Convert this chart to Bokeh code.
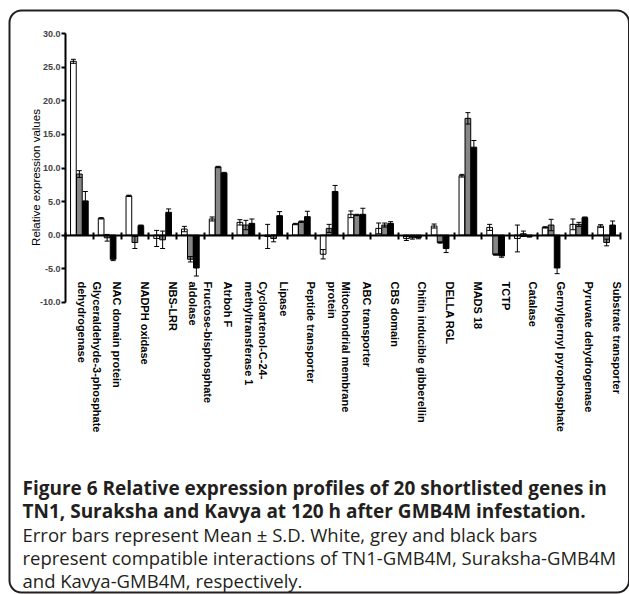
import math
from bokeh.plotting import figure
from bokeh.models import (ColumnDataSource, LinearAxis, FixedTicker, NumeralTickFormatter,
                          Range1d, Whisker, TeeHead)
from bokeh.core.properties import value
from bokeh.transform import dodge
from bokeh.embed import file_html
from bokeh.resources import INLINE

genes = ["Glyceraldehyde-3-phosphate\ndehydrogenase", "NAC domain protein", "NADPH oxidase",
         "NBS-LRR", "Fructose-bisphosphate\naldolase", "Atrboh F",
         "Cycloartenol-C-24-\nmethyltransferase 1", "Lipase", "Peptide transporter",
         "Mitochondrial membrane\nprotein", "ABC transporter", "CBS domain",
         "Chitin inducible gibberellin", "DELLA RGL", "MADS 18", "TCTP", "Catalase",
         "Gernylgernyl pyrophosphate", "Pyruvate dehydrogenase", "Substrate transporter"]
tn1 = [25.9, 2.5, 5.85, -0.5, 0.9, 2.4, 1.9, -0.2, 1.65, -2.85, 3.1, 1.0, -0.5, 1.35, 8.85, 1.15, -0.5, 1.15, 1.6, 1.35]
tn1_sd = [0.3, 0.1, 0.1, 1.2, 0.4, 0.3, 0.4, 1.8, 0.1, 0.7, 0.5, 0.8, 0.3, 0.3, 0.2, 0.45, 2.0, 0.1, 0.8, 0.2]
sur = [9.1, -0.4, -1.1, -0.7, -3.6, 10.15, 1.5, -0.5, 2.0, 1.0, 3.0, 1.5, -0.4, -1.1, 17.4, -2.9, 0.2, 1.5, 1.6, -1.1]
sur_sd = [0.5, 0.5, 0.9, 1.3, 0.4, 0.1, 0.7, 0.5, 0.1, 0.6, 0.1, 0.3, 0.2, 0.1, 0.85, 0.1, 0.4, 0.85, 0.3, 0.5]
kav = [5.1, -3.6, 1.4, 3.4, -4.9, 9.25, 1.75, 2.9, 2.75, 6.5, 3.1, 1.75, -0.4, -2.0, 13.1, -3.1, -0.2, -4.9, 2.6, 1.5]
kav_sd = [1.4, 0.2, 0.1, 0.5, 1.2, 0.1, 0.65, 0.6, 0.8, 0.9, 0.9, 0.25, 0.15, 0.6, 1.0, 0.2, 0.1, 0.85, 0.1, 0.6]
y_ticks = [-10, -5, 0, 5, 10, 15, 20, 25, 30]
y_label = "Relative expression values"

caption_bold = ["Figure 6 Relative expression profiles of 20 shortlisted genes in",
                "TN1, Suraksha and Kavya at 120 h after GMB4M infestation."]
caption_reg = ["Error bars represent Mean \u00b1 S.D. White, grey and black bars",
               "represent compatible interactions of TN1-GMB4M, Suraksha-GMB4M",
               "and Kavya-GMB4M, respectively."]

n = len(genes)
centers = [i + 0.5 for i in range(n)]
src = ColumnDataSource(dict(
    x=centers,
    tn1=tn1, tn1_lo=[v - s for v, s in zip(tn1, tn1_sd)], tn1_hi=[v + s for v, s in zip(tn1, tn1_sd)],
    sur=sur, sur_lo=[v - s for v, s in zip(sur, sur_sd)], sur_hi=[v + s for v, s in zip(sur, sur_sd)],
    kav=kav, kav_lo=[v - s for v, s in zip(kav, kav_sd)], kav_hi=[v + s for v, s in zip(kav, kav_sd)],
))

# ---- layout (pixels inside the canvas) ----
W, H = 629, 594
PX_L, PX_R = 65.0, 620.0      # x = 0 and x = n
PX_T, PX_B = 33.3, 301.7      # y = 30 and y = -10
sx = (PX_R - PX_L) / n
sy = (PX_B - PX_T) / 40.0
x0 = -PX_L / sx
x1 = n + (W - PX_R) / sx
y1 = 30 + PX_T / sy
y0 = -10 - (H - PX_B) / sy


def dx(px):
    return x0 + px / sx


def dy(py):
    return y1 - py / sy


p = figure(width=W, height=H, output_backend="svg", toolbar_location=None,
           x_range=Range1d(x0, x1), y_range=Range1d(y0, y1),
           x_axis_type=None, y_axis_type=None,
           min_border=0, min_border_left=0, min_border_right=0,
           min_border_top=0, min_border_bottom=0)
p.grid.visible = False
p.outline_line_color = None
p.background_fill_color = "white"
p.border_fill_color = "white"

# rounded frame around the whole figure
box_kw = dict(left=[dx(9)], right=[dx(628.5)], top=[dy(10)], bottom=[dy(592)],
              fill_color=None, line_color="#231f20", line_width=2)
try:
    p.quad(border_radius=12, **box_kw)
except Exception:
    p.quad(**box_kw)

off = 0.216
bw = 0.205
series = [("tn1", "white"), ("sur", "#868686"), ("kav", "black")]
for k, (name, col) in enumerate(series):
    d = (k - 1) * off
    p.vbar(x=dodge("x", d), top=name, bottom=0, width=bw, source=src,
           fill_color=col, line_color="black", line_width=1)
for k, (name, col) in enumerate(series):
    d = (k - 1) * off
    w = Whisker(base=dodge("x", d), lower=name + "_lo", upper=name + "_hi", source=src,
                line_color="black", line_width=1, level="annotation",
                upper_head=TeeHead(size=5, line_color="black", line_width=1),
                lower_head=TeeHead(size=5, line_color="black", line_width=1))
    p.add_layout(w)

# y axis at x = 0
ya = LinearAxis(ticker=FixedTicker(ticks=y_ticks), formatter=NumeralTickFormatter(format="0.0"),
                fixed_location=0, bounds=(-10, 30))
ya.axis_line_width = 2
ya.major_tick_line_width = 2
ya.major_tick_out = 4
ya.major_tick_in = 0
ya.minor_tick_line_color = None
ya.major_label_text_font = "Liberation Sans"
ya.major_label_text_font_style = "bold"
ya.major_label_text_font_size = "9px"
ya.major_label_standoff = 1
p.add_layout(ya, "left")

p.text(x=[dx(35)], y=[dy(177)], text=[y_label], angle=math.pi / 2,
       text_align="center", text_baseline="middle",
       text_font=value("Liberation Sans"), text_font_size="11.5px", text_color="black")

# zero line axis with group-boundary ticks
za = LinearAxis(ticker=FixedTicker(ticks=list(range(n + 1))), fixed_location=0, bounds=(0, n))
za.axis_line_width = 2
za.major_tick_line_width = 2
za.major_tick_in = 3
za.major_tick_out = 4
za.minor_tick_line_color = None
za.major_label_text_font_size = "0px"
za.major_label_text_color = None
p.add_layout(za, "below")

# gene names (rotated, below the bars)
label_shift = 0.36
label_pos = [c + label_shift for c in centers]
la = LinearAxis(ticker=FixedTicker(ticks=label_pos), fixed_location=dy(281),
                major_label_overrides={c: g for c, g in zip(label_pos, genes)})
la.axis_line_color = None
la.major_tick_line_color = None
la.minor_tick_line_color = None
la.major_tick_in = 0
la.major_tick_out = 0
la.major_label_standoff = 0
la.major_label_orientation = -math.pi / 2
la.major_label_text_font = "Liberation Sans"
la.major_label_text_font_style = "bold"
la.major_label_text_font_size = "11px"
la.major_label_text_color = "black"
p.add_layout(la, "below")

# caption (line centres in pixels)
mid_y = [487, 510.5, 534, 557, 579.5]
p.text(x=[dx(22)] * 2, y=[dy(v) for v in mid_y[:2]], text=caption_bold,
       text_font=value("Open Sans"), text_font_size="19px", text_font_style="bold",
       text_color="#231f20", text_align="left", text_baseline="middle")
p.text(x=[dx(22)] * 3, y=[dy(v) for v in mid_y[2:]], text=caption_reg,
       text_font=value("Open Sans"), text_font_size="18.5px", text_font_style="normal",
       text_color="#231f20", text_align="left", text_baseline="middle")

open("out.html", "w").write(file_html(p, INLINE))
